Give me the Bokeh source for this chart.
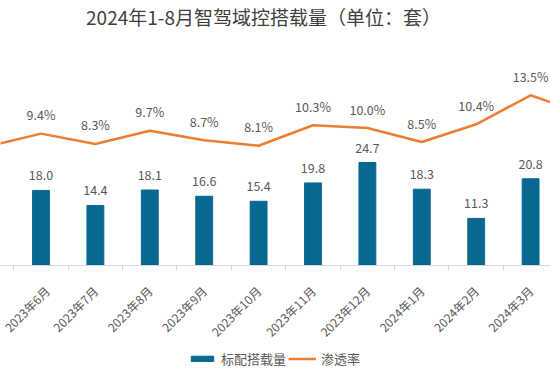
import math
from bokeh.plotting import figure
from bokeh.models import (Range1d, FixedTicker, ColumnDataSource, Legend,
                          LegendItem, Label)
from bokeh.core.properties import value
from bokeh.embed import file_html
from bokeh.resources import INLINE

# ---- data ----
title_text = "2024年1-8月智驾域控搭载量（单位：套）"
months = ["2023年5月", "2023年6月", "2023年7月", "2023年8月", "2023年9月",
          "2023年10月", "2023年11月", "2023年12月", "2024年1月", "2024年2月",
          "2024年3月", "2024年4月"]
volume = [None, 18.0, 14.4, 18.1, 16.6, 15.4, 19.8, 24.7, 18.3, 11.3, 20.8, None]
rate = [8.0, 9.4, 8.3, 9.7, 8.7, 8.1, 10.3, 10.0, 8.5, 10.4, 13.5, 11.5]
series_names = ["标配搭载量", "渗透率"]

FONT = "Noto Sans CJK SC"
BAR_COLOR = "#096892"
LINE_COLOR = "#ed7d31"
TEXT_COLOR = "#595959"
AXIS_COLOR = "#d9d9d9"

xs = list(range(len(months)))
bar_x = [i for i, v in zip(xs, volume) if v is not None]
bar_v = [v for v in volume if v is not None]
bar_src = ColumnDataSource(dict(x=bar_x, v=bar_v, lab=[f"{v:.1f}" for v in bar_v]))
# points whose month is cropped out of view carry no label
rate_lab = [f"{r:.1f}%" if volume[i] is not None else "" for i, r in enumerate(rate)]
line_src = ColumnDataSource(dict(x=xs, r=rate, lab=rate_lab))

p = figure(width=550, height=378, output_backend="svg", toolbar_location=None,
           x_range=Range1d(0.2555, 10.366), y_range=Range1d(-27.1, 63.55),
           y_axis_location=None, min_border_left=0, min_border_right=0,
           min_border_top=0, min_border_bottom=0)
p.extra_y_ranges = {"pct": Range1d(-16.79, 23.64)}
p.outline_line_color = None
p.xgrid.visible = False
p.ygrid.visible = False
p.background_fill_color = "white"
p.border_fill_color = "white"

bars = p.vbar(x="x", top="v", width=0.31, source=bar_src, color=BAR_COLOR)
p.text(x="x", y="v", text="lab", source=bar_src, text_align="center",
       text_baseline="middle", y_offset=-15, text_font=value(FONT),
       text_font_size="12.5px", text_color=TEXT_COLOR)

line = p.line(x="x", y="r", source=line_src, y_range_name="pct",
              line_color=LINE_COLOR, line_width=2.5)
p.text(x="x", y="r", text="lab", source=line_src, y_range_name="pct",
       text_align="center", text_baseline="middle", y_offset=-19,
       text_font=value(FONT), text_font_size="12.5px", text_color=TEXT_COLOR)

ax = p.xaxis[0]
ax.fixed_location = 0
ax.ticker = FixedTicker(ticks=xs, minor_ticks=[i + 0.5 for i in xs])
ax.major_label_overrides = {i: m for i, m in zip(xs, months)}
ax.major_label_orientation = math.pi / 4
ax.major_label_text_font = FONT
ax.major_label_text_font_size = "12px"
ax.major_label_text_color = TEXT_COLOR
ax.major_label_standoff = 18
ax.major_tick_in = 0
ax.major_tick_out = 0
ax.minor_tick_in = 0
ax.minor_tick_out = 5
ax.minor_tick_line_color = AXIS_COLOR
ax.axis_line_color = AXIS_COLOR

p.add_layout(Label(x=5.09, y=59.7, text=title_text, text_align="center",
                   text_baseline="middle", text_font=FONT,
                   text_font_size="19px", text_color="#404040"))

legend = Legend(items=[LegendItem(label=series_names[0], renderers=[bars]),
                       LegendItem(label=series_names[1], renderers=[line])],
                location=(188, 10), orientation="horizontal",
                glyph_width=28, glyph_height=7, label_standoff=5, spacing=2,
                padding=0, margin=0, border_line_color=None,
                background_fill_alpha=0, label_text_font=FONT,
                label_text_font_size="13px", label_text_color=TEXT_COLOR)
p.add_layout(legend)

open("out.html", "w").write(file_html(p, INLINE))
